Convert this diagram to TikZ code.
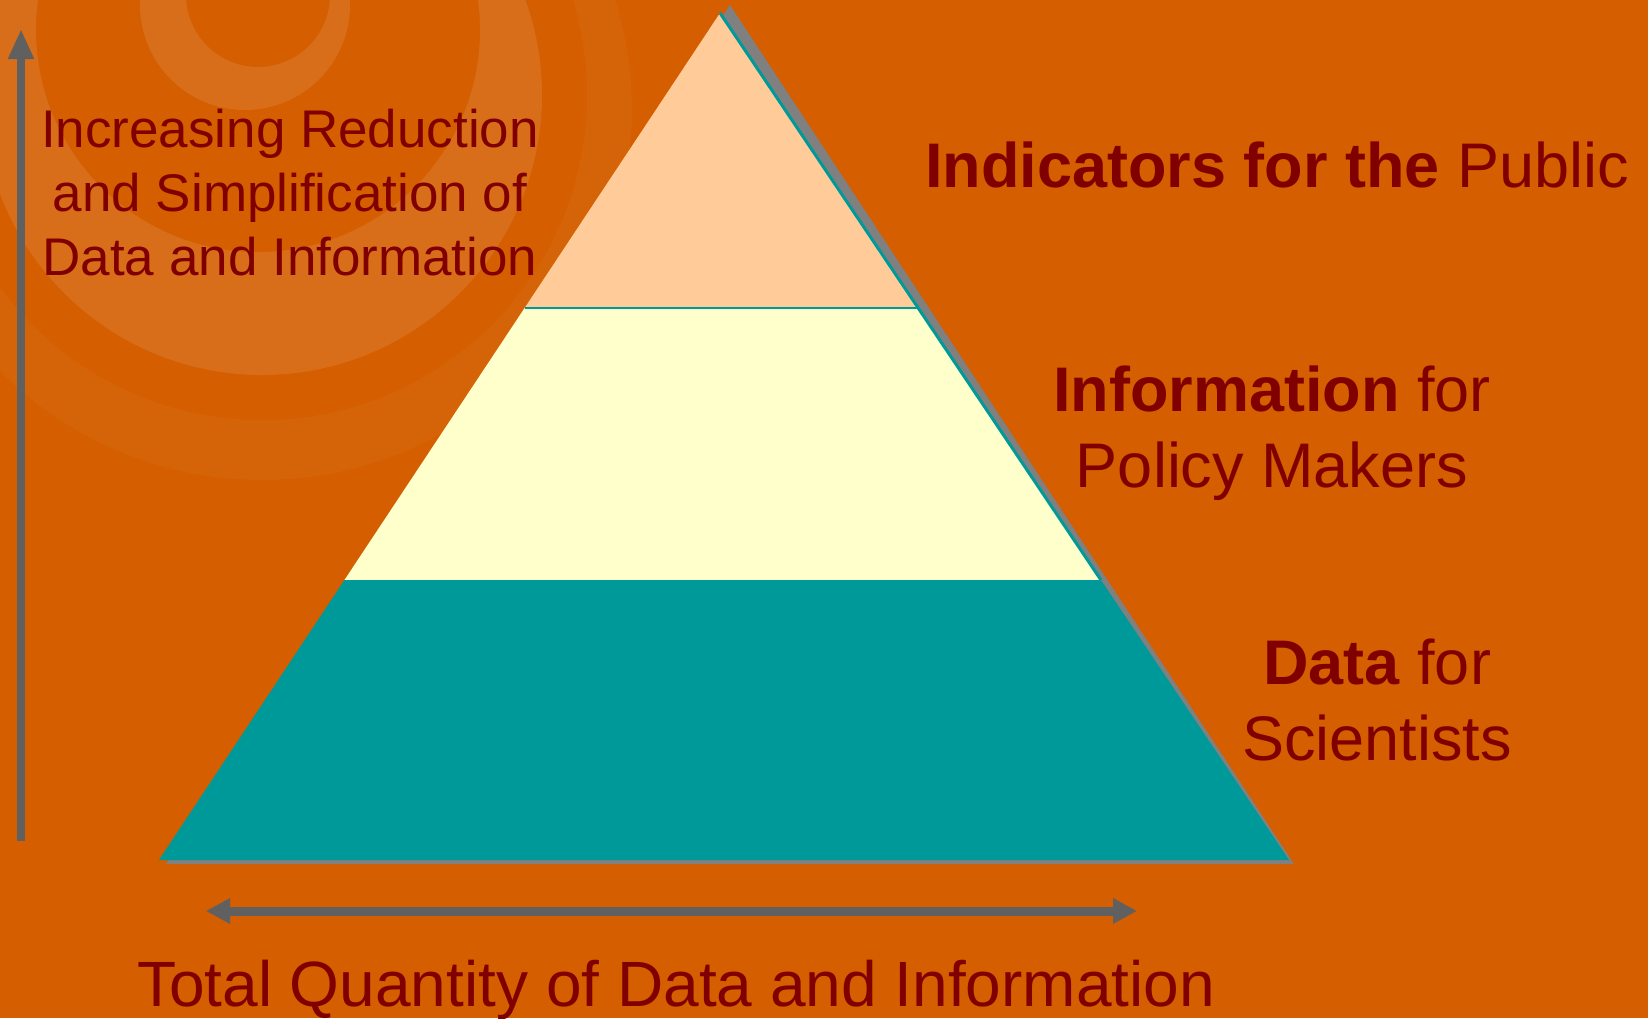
\documentclass[tikz,border=0pt]{standalone}
\usepackage{fontspec}
\setmainfont{Liberation Sans}
\usepackage{xcolor}
\usetikzlibrary{arrows.meta, positioning, calc}

\definecolor{bgorange}{RGB}{212,94,0}
\definecolor{swirl}{RGB}{216,110,26}
\definecolor{swirlfaint}{RGB}{213,99,8}
\definecolor{peach}{HTML}{FFCC99}
\definecolor{paleyellow}{HTML}{FFFFCC}
\definecolor{pyrteal}{HTML}{009999}
\definecolor{shadowgray}{HTML}{808080}
\definecolor{arrowgray}{RGB}{96,96,96}
\definecolor{labelred}{HTML}{800000}

\begin{document}
\begin{tikzpicture}[
  x=1pt, y=-1pt,
  every node/.style={text=labelred, inner sep=0pt, align=center},
  side/.style={font=\fontsize{53}{64}\selectfont},
  level/.style={font=\fontsize{63}{76}\selectfont},
  axis/.style={draw=arrowgray, line width=8pt, -{Triangle[length=30pt, width=24pt]}},
  span/.style={draw=arrowgray, line width=9pt, {Triangle[length=24pt, width=24pt]}-{Triangle[length=24pt, width=24pt]}}
]

\useasboundingbox (0,0) rectangle (1648,1018);
\fill[bgorange] (0,0) rectangle (1648,1018);

% swirl in the corner
\begin{scope}
  \clip (0,0) rectangle (1648,1018);
  \fill[swirlfaint, even odd rule] (262,110) circle[radius=370pt] (262,95) circle[radius=325pt];
  \fill[swirl, even odd rule] (262,95) circle[radius=280pt] (258,30) circle[radius=222pt];
  \fill[swirl, even odd rule] (245,5) circle[radius=105pt] (258,-5) circle[radius=72pt];
\end{scope}

% pyramid
\coordinate (apex) at (720,13);
\coordinate (bl) at (159,860);
\coordinate (br) at (1289,860);
\coordinate (l1) at ($(apex)!0.3483!(bl)$);
\coordinate (r1) at ($(apex)!0.3483!(br)$);
\coordinate (l2) at ($(apex)!0.6694!(bl)$);
\coordinate (r2) at ($(apex)!0.6694!(br)$);

\fill[shadowgray] (730,5) -- (166,864) -- (1294,864) -- cycle;
\fill[pyrteal] (bl) -- (br) -- (r2) -- (l2) -- cycle;
\fill[paleyellow] (l2) -- (r2) -- (r1) -- (l1) -- cycle;
\fill[peach] (l1) -- (r1) -- (apex) -- cycle;
\draw[pyrteal, line width=3pt] (apex) -- (r2);
\draw[pyrteal, line width=1.5pt] (l1) -- (r1);

% arrows
\coordinate (up0) at (21,841);
\coordinate (up1) at (21,29);
\coordinate (qty0) at (206,911);
\coordinate (qty1) at (1137,911);
\draw[axis] (up0) -- (up1);
\draw[span] (qty0) -- (qty1);

% labels
\node (reduce) [side, anchor=north] at (290,109) {Increasing Reduction\\and Simplification of\\Data and Information};
\node (public) [level, anchor=base] at (1277,187) {\textbf{Indicators for the} Public};
\node (policy) [level, anchor=north] at (1272,366) {\textbf{Information} for\\Policy Makers};
\node (science) [level, anchor=north] at (1377,639) {\textbf{Data} for\\Scientists};
\node (total) [level, font=\fontsize{64}{76}\selectfont, anchor=base] at (676,1006) {Total Quantity of Data and Information};

\end{tikzpicture}
\end{document}
